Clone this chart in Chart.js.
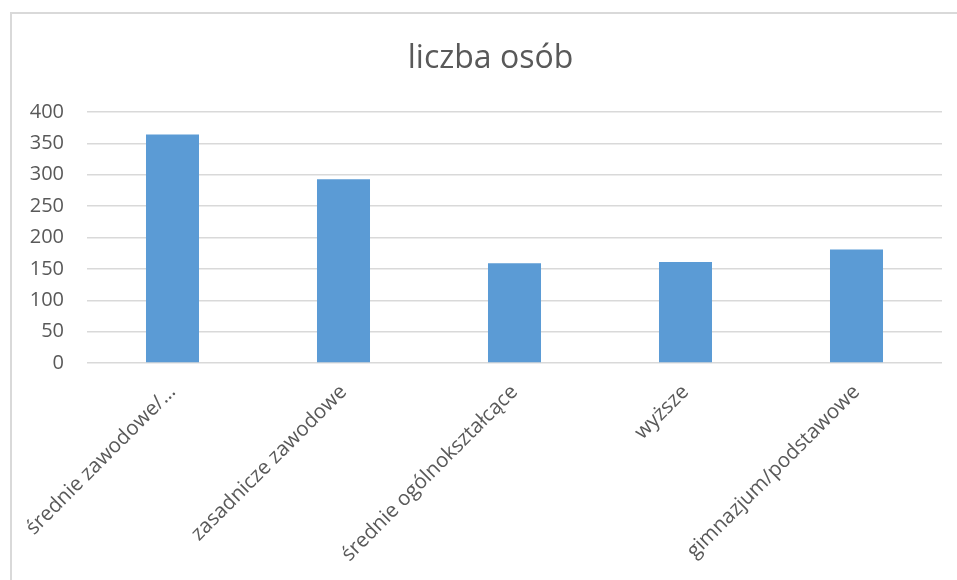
<!DOCTYPE html>
<html>
<head>
<meta charset="utf-8">
<script src="https://cdn.jsdelivr.net/npm/chart.js@4/dist/chart.umd.min.js"></script>
<style>
  html, body { margin: 0; padding: 0; background: #ffffff; }
  #wrap { width: 957px; height: 580px; }
</style>
</head>
<body>
<div id="wrap"><canvas id="c" width="957" height="580"></canvas></div>
<script>
const categories = ["średnie zawodowe/…", "zasadnicze zawodowe", "średnie ogólnokształcące", "wyższe", "gimnazjum/podstawowe"];
const seriesName = "liczba osób";
const values = [364, 293, 159, 161, 181];
const yTicks = [0, 50, 100, 150, 200, 250, 300, 350, 400];

const textColor = "#595959";
const gridColor = "#d9d9d9";
const barColor = "#5b9bd5";
const fontFamily = "'Open Sans', sans-serif";

const frame = {
  id: "frame",
  beforeDraw(chart) {
    const ctx = chart.ctx;
    ctx.save();
    ctx.fillStyle = "#ffffff";
    ctx.fillRect(0, 0, chart.width, chart.height);
    ctx.strokeStyle = gridColor;
    ctx.lineWidth = 2;
    ctx.beginPath();
    ctx.moveTo(11, chart.height);
    ctx.lineTo(11, 13);
    ctx.lineTo(chart.width, 13);
    ctx.stroke();
    ctx.restore();
  },
  afterDraw(chart) {
    const ctx = chart.ctx;
    ctx.save();
    ctx.fillStyle = textColor;
    ctx.font = "normal 32px " + fontFamily;
    ctx.textAlign = "center";
    ctx.textBaseline = "alphabetic";
    ctx.fillText(seriesName, 490.5, 68);
    ctx.restore();
  }
};

new Chart(document.getElementById("c"), {
  type: "bar",
  data: {
    labels: categories,
    datasets: [{
      label: seriesName,
      data: values,
      backgroundColor: barColor,
      borderWidth: 0,
      barPercentage: 0.31,
      categoryPercentage: 1.0
    }]
  },
  options: {
    responsive: false,
    animation: false,
    devicePixelRatio: 1,
    layout: { padding: { left: 15, right: 15, top: 112, bottom: 0 } },
    plugins: {
      legend: { display: false },
      tooltip: { enabled: false },
      title: { display: false }
    },
    scales: {
      x: {
        grid: { display: false, drawTicks: false },
        border: { display: false },
        ticks: {
          autoSkip: false,
          maxRotation: 45,
          minRotation: 45,
          color: textColor,
          padding: 17,
          font: { family: fontFamily, size: 20.5 }
        },
        afterFit(scale) { scale.height = 217; }
      },
      y: {
        min: 0,
        max: 400,
        afterBuildTicks(scale) { scale.ticks = yTicks.map(v => ({ value: v })); },
        grid: { color: gridColor, lineWidth: 1.5, drawTicks: false },
        border: { display: false },
        ticks: {
          color: textColor,
          padding: 23,
          font: { family: fontFamily, size: 20 }
        },
        afterFit(scale) { scale.width = 72; }
      }
    }
  },
  plugins: [frame]
});
</script>
</body>
</html>
